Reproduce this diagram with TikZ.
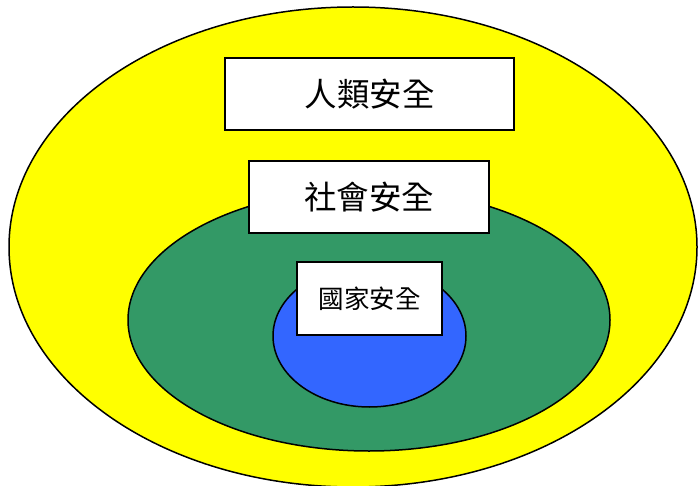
\documentclass[tikz,border=0pt]{standalone}
\usepackage{fontspec}
\newfontfamily\cjk{Noto Sans CJK TC}
\definecolor{ylw}{HTML}{FFFF00}
\definecolor{grn}{HTML}{339966}
\definecolor{blu}{HTML}{3366FF}
\begin{document}
\begin{tikzpicture}[x=1pt,y=-1pt,
  ring/.style={draw=black,line width=1.5pt},
  label box/.style={draw=black,fill=white,line width=1.5pt,inner sep=0pt,font=\cjk}]
\useasboundingbox (0,0) rectangle (698,486);
\clip (0,0) rectangle (698,486);
\fill[white] (0,0) rectangle (698,486);
\draw[ring,fill=ylw] (353,247) ellipse [x radius=344,y radius=240];
\draw[ring,fill=grn] (369,320) ellipse [x radius=241,y radius=131];
\draw[ring,fill=blu] (369.5,336) ellipse [x radius=96.5,y radius=71];
\node[label box,minimum width=289pt,minimum height=72pt,font=\cjk\fontsize{32.5}{32.5}\selectfont] (human) at (369.5,94) {人類安全};
\node[label box,minimum width=240pt,minimum height=72pt,font=\cjk\fontsize{32.5}{32.5}\selectfont] (society) at (369,197) {社會安全};
\node[label box,minimum width=145pt,minimum height=73pt,font=\cjk\fontsize{25.5}{25.5}\selectfont] (nation) at (369.5,298.5) {國家安全};
\end{tikzpicture}
\end{document}
